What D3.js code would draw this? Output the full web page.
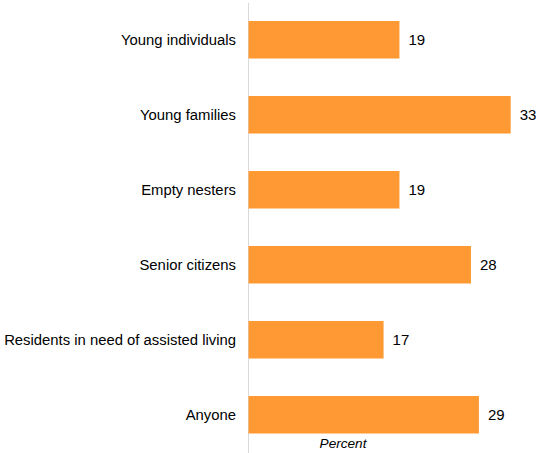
<!DOCTYPE html>
<html>
<head>
<meta charset="utf-8">
<script src="https://cdn.jsdelivr.net/npm/d3@7"></script>
<style>
html,body{margin:0;padding:0;background:#fff;}
svg{display:block;font-family:"Liberation Sans",Arial,sans-serif;}
</style>
</head>
<body>
<svg id="chart" width="536" height="453"></svg>
<script>
const categories = ["Young individuals","Young families","Empty nesters","Senior citizens","Residents in need of assisted living","Anyone"];
const values = [19,33,19,28,17,29];
const axisTitle = "Percent";

const svg = d3.select("#chart");
const x0 = 248.5;
const x = d3.scaleLinear().domain([0,33]).range([x0, x0 + 33*7.945]);
const y = d3.scaleBand().domain(categories).range([2.25,452.25]).paddingInner(0.5).paddingOuter(0.25);

svg.append("line")
  .attr("x1",x0).attr("x2",x0).attr("y1",3).attr("y2",453)
  .attr("stroke","#d9d9d9").attr("stroke-width",1);

svg.selectAll("rect.bar").data(values).join("rect")
  .attr("class","bar")
  .attr("x",x(0))
  .attr("y",(d,i)=>y(categories[i]))
  .attr("width",d=>x(d)-x(0))
  .attr("height",y.bandwidth())
  .attr("fill","#FF9933");

svg.selectAll("text.val").data(values).join("text")
  .attr("class","val")
  .attr("x",d=>x(d)+9)
  .attr("y",(d,i)=>y(categories[i])+y.bandwidth()/2)
  .attr("dy","0.36em")
  .attr("font-size",15)
  .attr("fill","#000")
  .text(d=>d);

svg.selectAll("text.cat").data(categories).join("text")
  .attr("class","cat")
  .attr("x",236)
  .attr("y",d=>y(d)+y.bandwidth()/2)
  .attr("dy","0.36em")
  .attr("text-anchor","end")
  .attr("font-size",14.85)
  .attr("fill","#000")
  .text(d=>d);

svg.append("text")
  .attr("x",343).attr("y",448)
  .attr("text-anchor","middle")
  .attr("font-size",13.6)
  .attr("font-style","italic")
  .attr("fill","#000")
  .text(axisTitle);
</script>
</body>
</html>
